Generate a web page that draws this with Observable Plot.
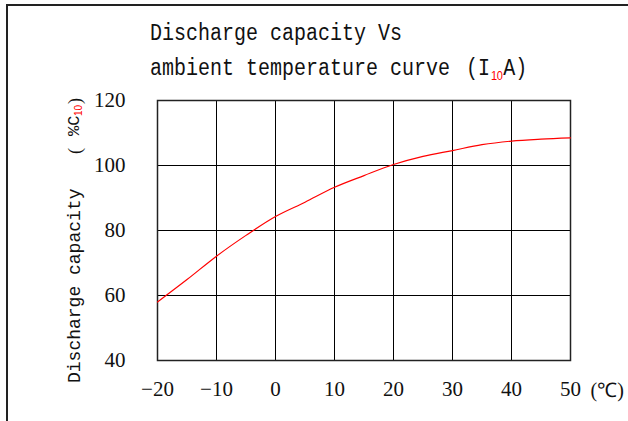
<!DOCTYPE html>
<html><head><meta charset="utf-8">
<script src="https://cdn.jsdelivr.net/npm/d3@7"></script>
<script src="https://cdn.jsdelivr.net/npm/@observablehq/plot@0.6"></script>
<style>
body{margin:0;background:#fff}
#wrap{position:relative;width:628px;height:421px;overflow:hidden;background:#fff}
#border{position:absolute;left:6px;top:4px;width:700px;height:500px;border-top:2px solid #222;border-left:2px solid #222}
#chart{position:absolute;left:0;top:0}
.title{position:absolute;left:150px;font-family:"Liberation Mono",monospace;font-size:20px;line-height:20px;white-space:pre;color:#111;transform:scaleY(1.15);transform-origin:0 0}
.sub{color:red;font-family:"Liberation Sans",sans-serif;font-size:11px;position:relative;top:4px;letter-spacing:-0.5px;margin-left:1px;margin-right:1px}
#ylab{position:absolute;left:75px;top:373px;width:300px;height:20px;transform:rotate(-90deg);transform-origin:0 10px;color:#111}
#ylab span{position:absolute;top:0;height:20px;line-height:20px;white-space:pre}
#ylab .m{font-family:"Liberation Mono",monospace;font-size:18px}
#ylab .p{font-family:"Liberation Serif",serif;font-size:18px;text-align:center;width:12px}
#ylab .s{color:red;font-family:"Liberation Sans",sans-serif;font-size:10px;top:4px}
</style></head><body>
<div id="wrap">
  <div id="border"></div>
  <div id="chart"></div>
  <div class="title" style="top:23px">Discharge capacity Vs</div>
  <div class="title" style="top:58px">ambient temperature curve <span style="margin-left:4px">(</span>I<span class="sub">10</span>A)</div>
  <div id="ylab">
    <span class="m" style="left:0">Discharge capacity</span>
    <span class="p" style="left:226px">(</span>
    <span class="m" style="left:247px;font-size:17px">%C</span>
    <span class="s" style="left:267px">10</span>
    <span class="p" style="left:276px">)</span>
  </div>
</div>
<script>
const temps = [-20, -15, -10, -5, 0, 5, 10, 15, 20, 25, 30, 35, 40, 45, 50];
const capacity = [58, 64.9, 72.1, 78.5, 84.3, 88.7, 93.3, 96.9, 100.3, 102.8, 104.6, 106.4, 107.5, 108.1, 108.5];
const xTicks = [-20, -10, 0, 10, 20, 30, 40, 50];
const yTicks = [40, 60, 80, 100, 120];
const unitLabel = "(℃)";

const data = temps.map((t, i) => ({t, c: capacity[i]}));
const fmt = d => d < 0 ? "\u2212" + (-d) : String(d);

const chart = Plot.plot({
  width: 628,
  height: 421,
  marginLeft: 157,
  marginRight: 58,
  marginTop: 100,
  marginBottom: 61,
  style: {fontFamily: "Liberation Serif, serif", fontSize: "21px", background: "transparent", color: "#111", overflow: "visible"},
  x: {domain: [-20, 50], ticks: xTicks, tickFormat: fmt, tickSize: 0, tickPadding: 21, label: null},
  y: {domain: [40, 120], ticks: yTicks, tickSize: 0, tickPadding: 32, label: null},
  marks: [
    Plot.gridX(xTicks, {stroke: "#000", strokeOpacity: 1, strokeWidth: 1}),
    Plot.gridY(yTicks, {stroke: "#000", strokeOpacity: 1, strokeWidth: 1}),
    Plot.frame({stroke: "#222", strokeWidth: 1.5}),
    Plot.line(data, {x: "t", y: "c", stroke: "red", strokeWidth: 1.2, curve: "catmull-rom"}),
    Plot.text([{t: 50, c: 40, s: unitLabel}], {x: "t", y: "c", text: "s", dx: 20, dy: 30, textAnchor: "start", fontSize: 20, fill: "#111"})
  ]
});
document.getElementById("chart").appendChild(chart);
</script>
</body></html>
